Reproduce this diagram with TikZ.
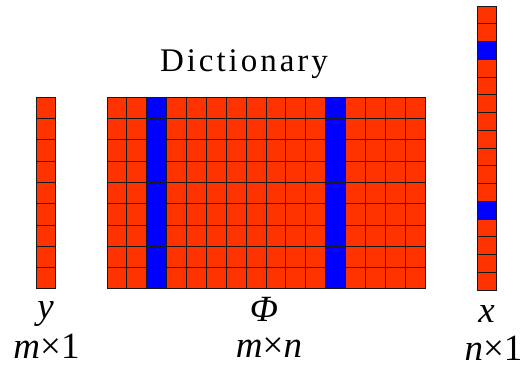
\documentclass[tikz,border=0pt]{standalone}
\usepackage{fontspec}
\setmainfont{Liberation Serif}
\newfontfamily\labelfont{Liberation Serif}
\usetikzlibrary{positioning,calc}
\definecolor{cellorange}{RGB}{255,51,0}
\definecolor{cellblue}{RGB}{0,0,255}
\tikzset{
  cell/.style={draw=black!90, line width=1pt},
  dimlabel/.style={font=\labelfont\fontsize{37}{40}\selectfont\itshape, inner sep=0pt, anchor=base},
  titlelabel/.style={font=\labelfont\fontsize{33}{36}\selectfont\addfontfeature{LetterSpace=9},
                     inner sep=0pt, anchor=base}
}

\begin{document}
\begin{tikzpicture}[x=1pt,y=-1pt]
    \useasboundingbox (0,0) rectangle (531,367);
    \def\cw{19.875} \def\ch{21.333} \def\xh{17.75}

    % Dictionary title
    \node[titlelabel] (dict) at (244,71) {Dictionary};

    % y vector
    \foreach \r in {0,...,8}
      \draw[cell, fill=cellorange] (36,{97+\r*\ch}) rectangle ++(19,\ch);
    \coordinate (ybot) at (45.5,289);

    % dictionary matrix
    \foreach \c in {0,...,15}{
      \ifnum\c=2 \def\cf{cellblue}\else\ifnum\c=11 \def\cf{cellblue}\else\def\cf{cellorange}\fi\fi
      \foreach \r in {0,...,8}
        \draw[cell, fill=\cf] ({107+\c*\cw},{97+\r*\ch}) rectangle ++(\cw,\ch);
    }
    \coordinate (phibot) at (266,289);

    % sparse x vector
    \foreach \r in {0,...,15}{
      \ifnum\r=2 \def\cf{cellblue}\else\ifnum\r=11 \def\cf{cellblue}\else\def\cf{cellorange}\fi\fi
      \draw[cell, fill=\cf] (477,{6+\r*\xh}) rectangle ++(19,\xh);
    }
    \coordinate (xbot) at (486.5,290);

    % labels
    \node[dimlabel] (ylbl)   at ($(ybot)+(0,29)$)   {y};
    \node[dimlabel] (ysize)  at ($(ybot)+(1,69)$)   {m\upshape ×1};
    \node[dimlabel] (philbl) at ($(phibot)+(-2,32)$) {Φ};
    \node[dimlabel] (phisize) at ($(phibot)+(3,68)$) {m\upshape ×\itshape n};
    \node[dimlabel] (xlbl)   at ($(xbot)+(0,32)$)   {x};
    \node[dimlabel] (xsize)  at ($(xbot)+(7,70)$)   {n\upshape ×1};
\end{tikzpicture}
\end{document}
